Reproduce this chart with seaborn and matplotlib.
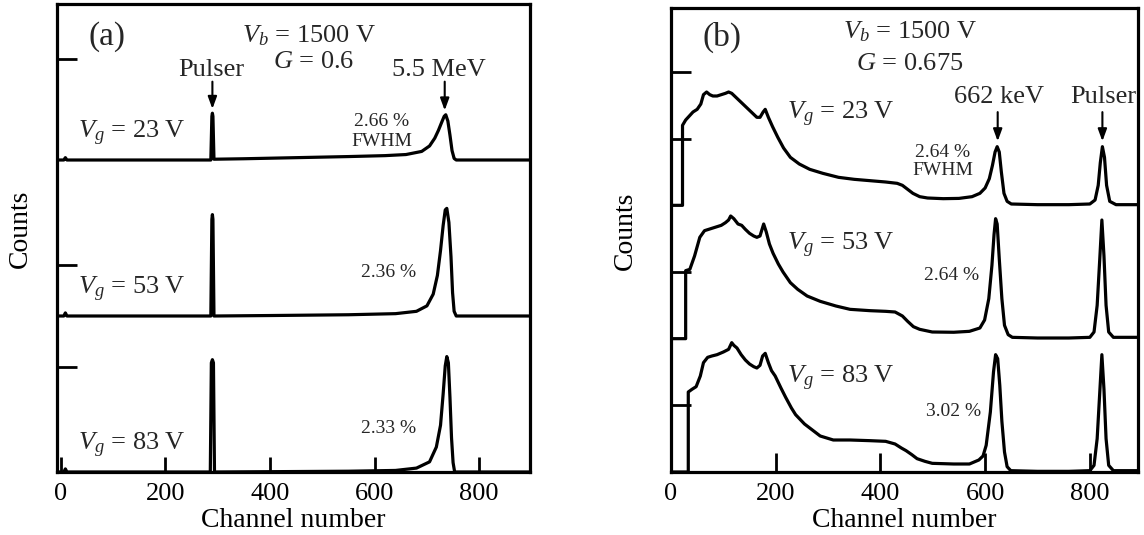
import numpy as np
import pandas as pd
import seaborn as sns
import matplotlib.pyplot as plt

# ---- panel (a): alpha spectra, 5.5 MeV ----
a_labels = ["23", "53", "83"]
a_fwhm = ["2.66 %", "2.36 %", "2.33 %"]
a_ch = [
    [-7, 6, 9, 12, 287, 289, 290, 291, 293, 350, 450, 550, 620, 660, 690, 705, 715, 722, 728, 733, 736, 740, 744, 748, 752, 756, 900],
    [-7, 6, 9, 12, 287, 289, 290, 291, 293, 400, 550, 640, 680, 700, 712, 720, 726, 731, 735, 738, 742, 746, 749, 752, 756, 900],
    [-7, 6, 9, 12, 286, 288, 290, 292, 294, 400, 550, 640, 680, 705, 718, 726, 731, 735, 738, 741, 744, 747, 750, 753, 900],
]
a_counts = [
    [0, 0, 0.015, 0, 0, 0.28, 0.30, 0.28, 0.005, 0.008, 0.015, 0.022, 0.028, 0.035, 0.055, 0.09, 0.14, 0.19, 0.24, 0.28, 0.29, 0.25, 0.16, 0.06, 0.01, 0, 0],
    [0, 0, 0.02, 0, 0, 0.62, 0.65, 0.62, 0, 0.003, 0.008, 0.015, 0.03, 0.065, 0.14, 0.26, 0.42, 0.58, 0.68, 0.69, 0.60, 0.38, 0.15, 0.03, 0, 0],
    [0, 0, 0.02, 0, 0, 0.70, 0.72, 0.70, 0, 0.002, 0.005, 0.01, 0.025, 0.065, 0.16, 0.30, 0.50, 0.68, 0.74, 0.70, 0.48, 0.22, 0.06, 0, 0],
]

# ---- panel (b): 137Cs spectra, 662 keV ----
b_labels = ["23", "53", "83"]
b_fwhm = ["2.64 %", "2.64 %", "3.02 %"]
b_ch = [
    [0, 22, 22, 28, 35, 42, 50, 57, 62, 68, 74, 80, 88, 96, 104, 110, 116, 124, 132, 140, 148, 156, 164, 170, 176, 180, 186, 194, 204, 215, 228, 245, 265, 290, 320, 350, 380, 410, 432, 442, 452, 462, 475, 490, 520, 550, 575, 590, 600, 608, 614, 619, 623, 627, 631, 636, 642, 650, 700, 760, 800, 810, 816, 820, 824, 828, 832, 838, 850, 900],
    [0, 28, 28, 36, 45, 55, 64, 72, 80, 88, 96, 104, 110, 114, 120, 128, 135, 142, 150, 158, 164, 170, 177, 182, 188, 195, 205, 214, 228, 242, 260, 285, 315, 342, 380, 410, 428, 442, 452, 463, 475, 499, 540, 570, 590, 599, 607, 613, 617, 620, 623, 627, 632, 637, 644, 652, 700, 760, 800, 808, 814, 819, 823, 827, 831, 836, 845, 900],
    [0, 33, 33, 40, 48, 56, 62, 70, 78, 88, 100, 110, 116, 120, 126, 134, 142, 150, 158, 164, 170, 175, 180, 186, 192, 199, 210, 219, 230, 238, 255, 285, 310, 342, 380, 410, 428, 440, 449, 460, 470, 485, 499, 540, 570, 588, 596, 602, 610, 616, 620, 624, 628, 632, 637, 642, 649, 700, 760, 800, 808, 814, 819, 823, 827, 831, 836, 845, 900],
]
b_counts = [
    [0, 0, 0.60, 0.64, 0.67, 0.70, 0.72, 0.76, 0.83, 0.85, 0.83, 0.82, 0.82, 0.83, 0.84, 0.85, 0.84, 0.81, 0.78, 0.75, 0.72, 0.69, 0.66, 0.66, 0.70, 0.72, 0.66, 0.59, 0.51, 0.43, 0.36, 0.31, 0.27, 0.24, 0.21, 0.195, 0.185, 0.175, 0.165, 0.15, 0.12, 0.09, 0.065, 0.055, 0.05, 0.052, 0.065, 0.09, 0.13, 0.2, 0.3, 0.4, 0.44, 0.40, 0.25, 0.09, 0.03, 0.01, 0.005, 0.005, 0.01, 0.04, 0.15, 0.32, 0.44, 0.36, 0.15, 0.03, 0.005, 0.005],
    [0, 0, 0.51, 0.52, 0.62, 0.76, 0.81, 0.82, 0.83, 0.84, 0.85, 0.87, 0.89, 0.92, 0.90, 0.86, 0.85, 0.82, 0.79, 0.77, 0.76, 0.77, 0.86, 0.80, 0.71, 0.64, 0.56, 0.50, 0.42, 0.37, 0.32, 0.28, 0.245, 0.22, 0.21, 0.205, 0.20, 0.17, 0.13, 0.09, 0.07, 0.05, 0.048, 0.055, 0.08, 0.14, 0.3, 0.55, 0.78, 0.90, 0.86, 0.6, 0.3, 0.1, 0.03, 0.01, 0.005, 0.005, 0.01, 0.05, 0.25, 0.6, 0.89, 0.62, 0.25, 0.05, 0.01, 0.01],
    [0, 0, 0.60, 0.62, 0.64, 0.72, 0.82, 0.86, 0.87, 0.88, 0.90, 0.92, 0.97, 0.95, 0.93, 0.88, 0.84, 0.81, 0.79, 0.78, 0.80, 0.87, 0.89, 0.82, 0.76, 0.72, 0.63, 0.56, 0.48, 0.43, 0.36, 0.27, 0.24, 0.24, 0.235, 0.23, 0.21, 0.18, 0.16, 0.13, 0.10, 0.08, 0.065, 0.06, 0.06, 0.09, 0.12, 0.20, 0.45, 0.75, 0.88, 0.85, 0.65, 0.38, 0.15, 0.04, 0.01, 0.005, 0.005, 0.01, 0.05, 0.25, 0.6, 0.88, 0.62, 0.25, 0.05, 0.01, 0.01],
]
xticks = [0, 200, 400, 600, 800]

sns.set_theme(style="ticks")
plt.rcParams['font.family'] = ['Liberation Serif', 'DejaVu Serif']
plt.rcParams['mathtext.fontset'] = 'custom'
plt.rcParams['mathtext.rm'] = 'Liberation Serif'
plt.rcParams['mathtext.it'] = 'Liberation Serif:italic'

W, H = 1144, 535
fig = plt.figure(figsize=(W / 100, H / 100), dpi=100)
ax_a = fig.add_axes([57 / W, 63 / H, 473 / W, 468 / H])
ax_b = fig.add_axes([671 / W, 63 / H, 467 / W, 464 / H])


def draw(ax, chs, cts, offsets):
    for i, (c, v) in enumerate(zip(chs, cts)):
        df = pd.DataFrame({"ch": c, "counts": np.array(v) + offsets[i]})
        sns.lineplot(data=df, x="ch", y="counts", ax=ax, color="black",
                     lw=2.3, sort=False, estimator=None)


# offsets: top trace first
draw(ax_a, a_ch, a_counts, [2, 1, 0])
draw(ax_b, b_ch, b_counts, [2, 1, 0])

ax_a.set_xlim(-7, 897)
ax_a.set_ylim(0, 3.0)
ax_b.set_xlim(0, 892)
ax_b.set_ylim(0, 3.48)

ax_a.set_yticks([0.67, 1.33, 2.65])
ax_b.set_yticks([0.5, 1.5, 2.5, 3.0])

for ax in (ax_a, ax_b):
    ax.set_xticks(xticks)
    ax.set_yticklabels([])
    ax.tick_params(axis="x", direction="in", length=11, width=2, labelsize=19, pad=8, colors="black")
    ax.tick_params(axis="y", direction="in", length=14.5, width=2, colors="black")
    for s in ax.spines.values():
        s.set_linewidth(2.3)
        s.set_color("black")
    ax.set_xlabel("Channel number", fontsize=20, color="black")
    ax.set_ylabel("Counts", fontsize=20, color="black")
    ax.xaxis.set_label_coords(0.5, -0.077)
ax_a.yaxis.set_label_coords(-0.05, 0.52)
ax_b.yaxis.set_label_coords(-0.07, 0.52)
ax_b.tick_params(axis="x", length=13.5)

big = 19
small = 14
arr = dict(arrowstyle="-|>,head_length=0.6,head_width=0.22", color="black", lw=1.5)

# panel (a) annotations
ax_a.text(89, 2.79, "(a)", fontsize=24, ha="center", va="center")
ax_a.text(474, 2.80, r"$V_b$ = 1500 V", fontsize=big, ha="center", va="center")
ax_a.text(484, 2.63, r"$G$ = 0.6", fontsize=big, ha="center", va="center")
ax_a.text(288, 2.58, "Pulser", fontsize=big, ha="center", va="center")
ax_a.annotate("", xy=(290, 2.31), xytext=(290, 2.52), arrowprops=arr)
ax_a.text(722, 2.58, "5.5 MeV", fontsize=big, ha="center", va="center")
ax_a.annotate("", xy=(734, 2.30), xytext=(734, 2.52), arrowprops=arr)
ax_a.text(613, 2.25, a_fwhm[0], fontsize=small, ha="center", va="center")
ax_a.text(613, 2.12, "FWHM", fontsize=small, ha="center", va="center")
ax_a.text(627, 1.28, a_fwhm[1], fontsize=small, ha="center", va="center")
ax_a.text(627, 0.28, a_fwhm[2], fontsize=small, ha="center", va="center")
for i, lab in enumerate(a_labels):
    ax_a.text(34, 2 - i + 0.17, r"$V_g$ = " + lab + " V", fontsize=big, ha="left", va="center")

# panel (b) annotations
ax_b.text(98, 3.26, "(b)", fontsize=24, ha="center", va="center")
ax_b.text(456, 3.30, r"$V_b$ = 1500 V", fontsize=big, ha="center", va="center")
ax_b.text(456, 3.06, r"$G$ = 0.675", fontsize=big, ha="center", va="center")
ax_b.text(627, 2.81, "662 keV", fontsize=big, ha="center", va="center")
ax_b.annotate("", xy=(624, 2.46), xytext=(624, 2.72), arrowprops=arr)
ax_b.text(825, 2.81, "Pulser", fontsize=big, ha="center", va="center")
ax_b.annotate("", xy=(824, 2.46), xytext=(824, 2.72), arrowprops=arr)
ax_b.text(519, 2.40, b_fwhm[0], fontsize=small, ha="center", va="center")
ax_b.text(519, 2.26, "FWHM", fontsize=small, ha="center", va="center")
ax_b.text(535, 1.47, b_fwhm[1], fontsize=small, ha="center", va="center")
ax_b.text(540, 0.45, b_fwhm[2], fontsize=small, ha="center", va="center")
b_text_y = [2.68, 1.70, 0.70]
for i, lab in enumerate(b_labels):
    ax_b.text(222, b_text_y[i], r"$V_g$ = " + lab + " V", fontsize=big, ha="left", va="center")

fig.savefig("out.png", dpi=100, facecolor="white")
